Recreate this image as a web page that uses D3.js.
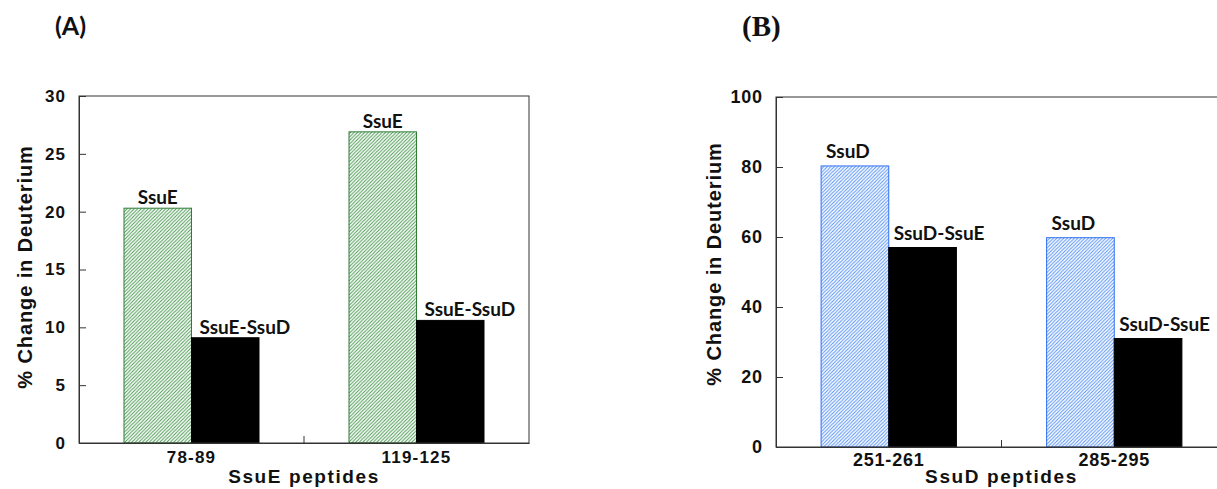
<!DOCTYPE html>
<html>
<head>
<meta charset="utf-8">
<script src="https://cdn.jsdelivr.net/npm/d3@7"></script>
<style>
  html, body { margin: 0; padding: 0; background: #fff; }
  svg { display: block; }
</style>
</head>
<body>
<svg id="chart" width="1217" height="489"></svg>
<script>
// ---- Data ----
const peptidesA = ["78-89", "119-125"];
const seriesA = ["SsuE", "SsuE-SsuD"];
const freeA = [20.3, 26.9];      // SsuE alone
const complexA = [9.1, 10.6];    // SsuE-SsuD
const ticksA = [0, 5, 10, 15, 20, 25, 30];
const xTitleA = "SsuE peptides";

const peptidesB = ["251-261", "285-295"];
const seriesB = ["SsuD", "SsuD-SsuE"];
const freeB = [80.3, 59.8];      // SsuD alone
const complexB = [57.0, 31.0];   // SsuD-SsuE
const ticksB = [0, 20, 40, 60, 80, 100];
const xTitleB = "SsuD peptides";

const yTitle = "% Change in Deuterium";

// ---- Drawing ----
const svg = d3.select("#chart");
const defs = svg.append("defs");

function hatch(id, color) {
  const s = 3.5;
  const p = defs.append("pattern")
    .attr("id", id).attr("patternUnits", "userSpaceOnUse")
    .attr("width", s).attr("height", s);
  p.append("rect").attr("width", s).attr("height", s).attr("fill", "#fff");
  p.append("path")
    .attr("d", `M-1,1 l2,-2 M0,${s} l${s},-${s} M${s - 1},${s + 1} l2,-2`)
    .attr("stroke", color).attr("stroke-width", 1);
}
hatch("hatchGreen", "#4a9a52");
hatch("hatchBlue", "#5591f7");

function panel(cfg) {
  const g = svg.append("g");
  const x0 = d3.scaleBand().domain(cfg.cats).range([cfg.left, cfg.right])
    .paddingInner(0.4).paddingOuter(0.2);
  const x1 = d3.scaleBand().domain(cfg.series).range([0, x0.bandwidth()]);
  const y = d3.scaleLinear().domain([cfg.ticks[0], cfg.ticks[cfg.ticks.length - 1]])
    .range([cfg.bottom, cfg.top]);

  const rows = cfg.cats.map((c, i) => ({ cat: c, vals: [cfg.free[i], cfg.complex[i]] }));

  // bars
  rows.forEach(r => {
    r.vals.forEach((v, j) => {
      const bx = x0(r.cat) + x1(cfg.series[j]);
      g.append("rect")
        .attr("x", bx).attr("y", y(v))
        .attr("width", x1.bandwidth()).attr("height", y(0) - y(v))
        .attr("fill", j === 0 ? `url(#${cfg.hatch})` : "#000")
        .attr("stroke", j === 0 ? cfg.border : "#000")
        .attr("stroke-width", 1);
      const centered = j === 0 && cfg.centerFree;
      g.append("text")
        .attr("x", centered ? bx + x1.bandwidth() / 2 : bx + cfg.labelDx)
        .attr("y", y(v) - cfg.labelGap)
        .attr("text-anchor", centered ? "middle" : "start")
        .attr("font-family", "Lato, 'Open Sans', sans-serif")
        .attr("font-weight", "bold")
        .attr("font-size", cfg.labelSize)
        .attr("fill", "#111")
        .text(cfg.series[j]);
    });
  });

  // frame
  g.append("rect")
    .attr("x", cfg.left).attr("y", cfg.top)
    .attr("width", cfg.right - cfg.left).attr("height", cfg.bottom - cfg.top)
    .attr("fill", "none").attr("stroke", "#333").attr("stroke-width", 1);

  // y axis
  const ya = g.append("g").attr("transform", `translate(${cfg.left},0)`)
    .call(d3.axisLeft(y).tickValues(cfg.ticks).tickSizeInner(-7).tickSizeOuter(0)
      .tickPadding(14 - cfg.tickLs));
  ya.select(".domain").attr("stroke", "#333");
  ya.selectAll(".tick line").attr("stroke", "#333");
  ya.selectAll("text")
    .attr("font-family", "'Liberation Sans', Arial, sans-serif")
    .attr("font-weight", "bold").attr("font-size", cfg.tickSize)
    .attr("letter-spacing", cfg.tickLs).attr("fill", "#111");

  // x axis
  const xa = g.append("g").attr("transform", `translate(0,${cfg.bottom})`)
    .call(d3.axisBottom(x0).tickSize(0).tickPadding(cfg.xPad));
  xa.select(".domain").attr("stroke", "#333");
  xa.selectAll("text")
    .attr("font-family", "'Liberation Sans', Arial, sans-serif")
    .attr("font-weight", "bold").attr("font-size", cfg.tickSize)
    .attr("letter-spacing", cfg.tickLs).attr("fill", "#111");
  // separator tick between categories
  const midX = x0(cfg.cats[1]) - x0.step() * x0.paddingInner() / 2;
  g.append("line")
    .attr("x1", midX).attr("x2", midX)
    .attr("y1", cfg.bottom).attr("y2", cfg.bottom - 7)
    .attr("stroke", "#333");

  // axis titles
  g.append("text")
    .attr("x", (cfg.left + cfg.right) / 2).attr("y", cfg.xTitleY)
    .attr("text-anchor", "middle")
    .attr("font-family", "'Liberation Sans', Arial, sans-serif")
    .attr("font-weight", "bold").attr("font-size", 19)
    .attr("letter-spacing", 1.6).attr("fill", "#111")
    .text(cfg.xTitle);
  g.append("text")
    .attr("transform", `translate(${cfg.yTitleX},${cfg.yTitleC}) rotate(-90)`)
    .attr("text-anchor", "middle")
    .attr("font-family", "'Liberation Sans', Arial, sans-serif")
    .attr("font-weight", "bold").attr("font-size", 20)
    .attr("letter-spacing", 0.9).attr("fill", "#111")
    .text(yTitle);
}

panel({
  cats: peptidesA, series: seriesA, free: freeA, complex: complexA, ticks: ticksA,
  left: 79, right: 529, top: 96, bottom: 443,
  hatch: "hatchGreen", border: "#2f7d35",
  centerFree: true, labelDx: 8, labelGap: 4, labelSize: 19,
  tickSize: 17, tickLs: 1.2, xPad: 8,
  xTitle: xTitleA, xTitleY: 483, yTitleX: 32, yTitleC: 267
});

panel({
  cats: peptidesB, series: seriesB, free: freeB, complex: complexB, ticks: ticksB,
  left: 776, right: 1227, top: 97, bottom: 447,
  hatch: "hatchBlue", border: "#2f6ff2",
  centerFree: false, labelDx: 5, labelGap: 8, labelSize: 19,
  tickSize: 18, tickLs: 0.8, xPad: 6,
  xTitle: xTitleB, xTitleY: 483, yTitleX: 721, yTitleC: 264
});

// panel labels
svg.append("text").attr("x", 55).attr("y", 35)
  .attr("font-family", "Lato, 'Open Sans', sans-serif").attr("font-weight", "bold")
  .attr("font-size", 25).attr("fill", "#111").text("(A)");
svg.append("text").attr("x", 742).attr("y", 36)
  .attr("font-family", "'Liberation Serif', 'Times New Roman', serif").attr("font-weight", "bold")
  .attr("font-size", 29).attr("fill", "#111").text("(B)");
</script>
</body>
</html>
